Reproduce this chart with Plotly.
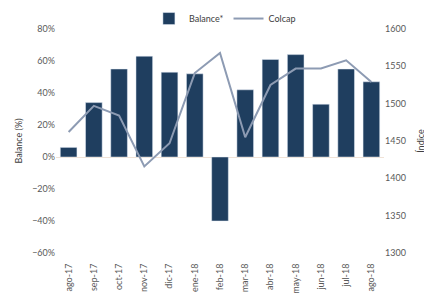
import plotly.graph_objects as go

categories = ["ago-17", "sep-17", "oct-17", "nov-17", "dic-17", "ene-18", "feb-18",
              "mar-18", "abr-18", "may-18", "jun-18", "jul-18", "ago-18"]
balance = [6, 34, 55, 63, 53, 52, -40, 42, 61, 64, 33, 55, 47]
colcap = [1462, 1497, 1484, 1416, 1447, 1541, 1568, 1455, 1525, 1547, 1547, 1558, 1529]

fig = go.Figure()
fig.add_trace(go.Bar(x=categories, y=balance, name="Balance*",
                     marker=dict(color="#1f3e5f"), width=0.66, yaxis="y"))
fig.add_trace(go.Scatter(x=categories, y=colcap, name="Colcap", mode="lines",
                         line=dict(color="#8d9bb3", width=2), yaxis="y2"))

font = dict(family="Lato, Liberation Sans, sans-serif", size=9, color="#595959")
fig.update_layout(
    width=432, height=301,
    margin=dict(l=48, r=56, t=21, b=56, autoexpand=False),
    paper_bgcolor="white", plot_bgcolor="white",
    font=font,
    showlegend=True,
    legend=dict(orientation="h", x=0.515, xanchor="center",
                yref="container", y=0.965, yanchor="middle",
                font=dict(size=9, color="#404040"), bgcolor="rgba(0,0,0,0)"),
    xaxis=dict(tickangle=-90, showgrid=False, showline=False, ticks="outside",
               ticklen=6, tickcolor="rgba(0,0,0,0)", automargin=False,
               tickfont=dict(size=9, color="#595959")),
    yaxis=dict(range=[-60, 80], dtick=20, ticksuffix="%", showgrid=False,
               zeroline=True, zerolinecolor="#f0e2d6", zerolinewidth=1,
               automargin=False,
               title=dict(text="Balance (%)", standoff=7,
                          font=dict(size=9, color="#404040")),
               tickfont=dict(size=9, color="#595959")),
    yaxis2=dict(range=[1300, 1600], dtick=50, overlaying="y", side="right",
                showgrid=False, zeroline=False, automargin=False,
                title=dict(text="Índice", standoff=12,
                           font=dict(size=9, color="#404040")),
                tickfont=dict(size=9, color="#595959")),
)

fig.write_html("out.html")
